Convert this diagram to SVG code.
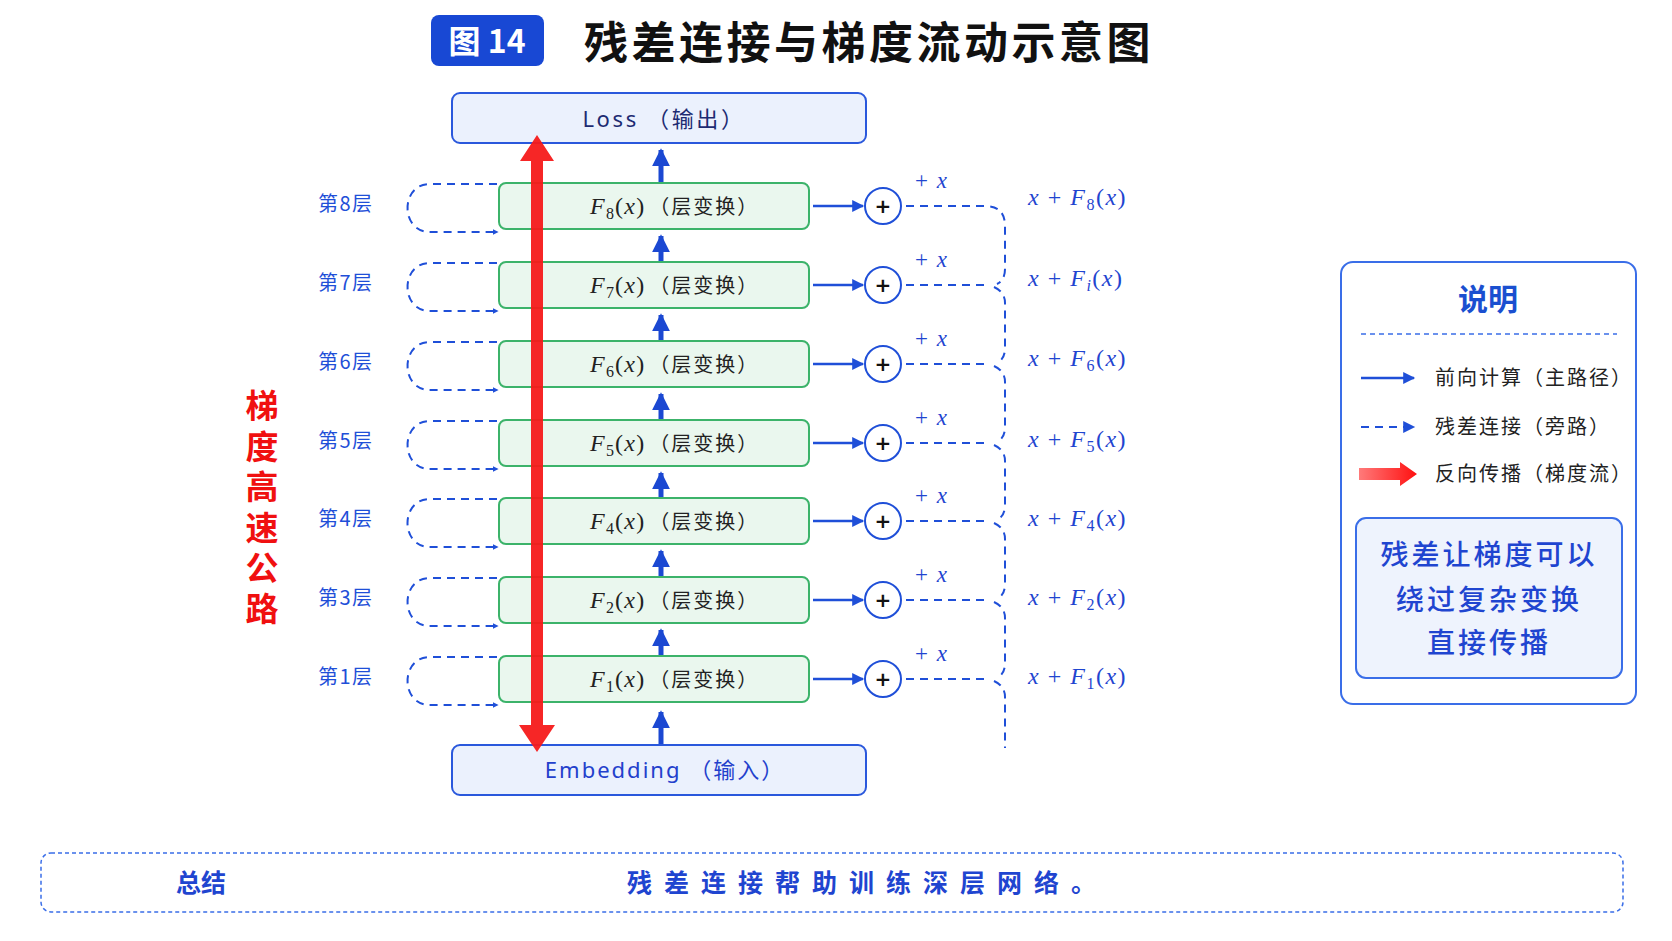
<svg xmlns="http://www.w3.org/2000/svg" width="1672" height="941" viewBox="0 0 1672 941">
<defs>
<style>
.title{font-family:"Noto Sans CJK SC",sans-serif;font-weight:700;font-size:44px;fill:#111}
.io{fill:#ebf1fd;stroke:#2a58dc;stroke-width:2}
.iot{font-family:"Noto Sans","Noto Sans CJK SC",sans-serif;font-size:22px;text-anchor:middle}
.layer{fill:#eaf7ee;stroke:#3cb36a;stroke-width:2}
.ft{font-family:"Liberation Serif","Noto Sans CJK SC",serif;font-size:24px;fill:#222;letter-spacing:1.2px}
.fc{font-family:"Noto Sans CJK SC",sans-serif;font-size:20px;letter-spacing:2px}
.it{font-style:italic}
.sub{font-size:16px}
.lbl{font-family:"Noto Sans CJK SC",sans-serif;font-size:20px;fill:#1f4fd8;letter-spacing:1.5px}
.rl{font-family:"Liberation Serif",serif;font-size:24px;fill:#1f45d0;letter-spacing:1.5px}
.px{font-family:"Liberation Serif",serif;font-size:23px;fill:#1f45d0;word-spacing:3px}
.fwd{stroke:#1f4fd8;stroke-width:2.5;fill:none}
.up{stroke:#1b48d2;stroke-width:5;fill:none}
.dash{stroke:#1f4fd8;stroke-width:2;fill:none;stroke-dasharray:8 6}
.circ{fill:#fff;stroke:#1f4fd8;stroke-width:2}
.plus{font-family:"DejaVu Sans",sans-serif;font-size:20px;font-weight:700;fill:#111;text-anchor:middle}
.leg{font-family:"Noto Sans CJK SC",sans-serif;font-size:20px;fill:#222;letter-spacing:2px}
</style>
<marker id="ah" viewBox="0 0 10 10" refX="9" refY="5" markerWidth="6" markerHeight="6" orient="auto" markerUnits="userSpaceOnUse">
<path d="M0,0 L10,5 L0,10 z" fill="#1f4fd8"/>
</marker>
<marker id="ahf" viewBox="0 0 10 10" refX="9" refY="5" markerWidth="14" markerHeight="12" orient="auto" markerUnits="userSpaceOnUse">
<path d="M0,0 L10,5 L0,10 z" fill="#1f4fd8"/>
</marker>
<marker id="ahu" viewBox="0 0 10 10" refX="9" refY="5" markerWidth="18" markerHeight="20" orient="auto" markerUnits="userSpaceOnUse">
<path d="M0,0 L10,5 L0,10 z" fill="#1b48d2"/>
</marker>
<linearGradient id="rg" x1="0" y1="0" x2="1" y2="0">
<stop offset="0" stop-color="#ff7a7a"/>
<stop offset="1" stop-color="#ff1010"/>
</linearGradient>
</defs>
<rect width="1672" height="941" fill="#fff"/>

<g id="title">
<rect x="431" y="15" width="113" height="51" rx="8" fill="#1848d4"/>
<text x="487" y="53" text-anchor="middle" font-family="Noto Sans CJK SC,sans-serif" font-weight="700" font-size="32" fill="#fff">图 14</text>
<text x="584" y="59" class="title" letter-spacing="3.5">残差连接与梯度流动示意图</text>
</g>

<g id="connectors">
<path class="up" d="M661 183 V150" marker-end="url(#ahu)"/>
<path class="up" d="M661 262 V236" marker-end="url(#ahu)"/>
<path class="up" d="M661 341 V315" marker-end="url(#ahu)"/>
<path class="up" d="M661 420 V394" marker-end="url(#ahu)"/>
<path class="up" d="M661 498 V473" marker-end="url(#ahu)"/>
<path class="up" d="M661 577 V551" marker-end="url(#ahu)"/>
<path class="up" d="M661 656 V630" marker-end="url(#ahu)"/>
<path class="up" d="M661 745 V712" marker-end="url(#ahu)"/>
<path class="fwd" d="M813 206 H863" marker-end="url(#ahf)"/>
<path class="fwd" d="M813 285 H863" marker-end="url(#ahf)"/>
<path class="fwd" d="M813 364 H863" marker-end="url(#ahf)"/>
<path class="fwd" d="M813 443 H863" marker-end="url(#ahf)"/>
<path class="fwd" d="M813 521 H863" marker-end="url(#ahf)"/>
<path class="fwd" d="M813 600 H863" marker-end="url(#ahf)"/>
<path class="fwd" d="M813 679 H863" marker-end="url(#ahf)"/>
<path class="dash" d="M497 184 H430 C400 184 400 232 430 232 H498" marker-end="url(#ah)"/>
<path class="dash" d="M497 263 H430 C400 263 400 311 430 311 H498" marker-end="url(#ah)"/>
<path class="dash" d="M497 342 H430 C400 342 400 390 430 390 H498" marker-end="url(#ah)"/>
<path class="dash" d="M497 421 H430 C400 421 400 469 430 469 H498" marker-end="url(#ah)"/>
<path class="dash" d="M497 499 H430 C400 499 400 547 430 547 H498" marker-end="url(#ah)"/>
<path class="dash" d="M497 578 H430 C400 578 400 626 430 626 H498" marker-end="url(#ah)"/>
<path class="dash" d="M497 657 H430 C400 657 400 705 430 705 H498" marker-end="url(#ah)"/>
<path class="dash" d="M906 206 H985 Q1005 206 1005 226 V269 Q1005 280 997 284"/>
<path class="dash" d="M906 285 H988"/>
<path class="dash" d="M994 287 Q1005 292 1005 303 V348 Q1005 359 997 363"/>
<path class="dash" d="M906 364 H988"/>
<path class="dash" d="M994 366 Q1005 371 1005 382 V427 Q1005 438 997 442"/>
<path class="dash" d="M906 443 H988"/>
<path class="dash" d="M994 445 Q1005 450 1005 461 V505 Q1005 516 997 520"/>
<path class="dash" d="M906 521 H988"/>
<path class="dash" d="M994 523 Q1005 528 1005 539 V584 Q1005 595 997 599"/>
<path class="dash" d="M906 600 H988"/>
<path class="dash" d="M994 602 Q1005 607 1005 618 V663 Q1005 674 997 678"/>
<path class="dash" d="M906 679 H988"/>
<path class="dash" d="M994 681 Q1005 686 1005 697 V748"/>
</g>

<g id="loss">
<rect class="io" x="452" y="93" width="414" height="50" rx="8"/>
<text class="iot" x="664" y="127" fill="#1d2b72" letter-spacing="2.6">Loss （输出）</text>
</g>

<g id="embedding">
<rect class="io" x="452" y="745" width="414" height="50" rx="8"/>
<text class="iot" x="665" y="778" fill="#2340cc" letter-spacing="2">Embedding （输入）</text>
</g>

<g id="layer8">
<rect class="layer" x="499" y="183" width="310" height="46" rx="7"/>
<text class="ft" x="590" y="214"><tspan class="it">F</tspan><tspan class="sub" dy="5">8</tspan><tspan dy="-5">(</tspan><tspan class="it">x</tspan><tspan>)</tspan><tspan class="fc" dx="4">（层变换）</tspan></text>
<text class="lbl" x="318" y="211">第8层</text>
</g>
<g id="layer7">
<rect class="layer" x="499" y="262" width="310" height="46" rx="7"/>
<text class="ft" x="590" y="293"><tspan class="it">F</tspan><tspan class="sub" dy="5">7</tspan><tspan dy="-5">(</tspan><tspan class="it">x</tspan><tspan>)</tspan><tspan class="fc" dx="4">（层变换）</tspan></text>
<text class="lbl" x="318" y="290">第7层</text>
</g>
<g id="layer6">
<rect class="layer" x="499" y="341" width="310" height="46" rx="7"/>
<text class="ft" x="590" y="372"><tspan class="it">F</tspan><tspan class="sub" dy="5">6</tspan><tspan dy="-5">(</tspan><tspan class="it">x</tspan><tspan>)</tspan><tspan class="fc" dx="4">（层变换）</tspan></text>
<text class="lbl" x="318" y="369">第6层</text>
</g>
<g id="layer5">
<rect class="layer" x="499" y="420" width="310" height="46" rx="7"/>
<text class="ft" x="590" y="451"><tspan class="it">F</tspan><tspan class="sub" dy="5">5</tspan><tspan dy="-5">(</tspan><tspan class="it">x</tspan><tspan>)</tspan><tspan class="fc" dx="4">（层变换）</tspan></text>
<text class="lbl" x="318" y="448">第5层</text>
</g>
<g id="layer4">
<rect class="layer" x="499" y="498" width="310" height="46" rx="7"/>
<text class="ft" x="590" y="529"><tspan class="it">F</tspan><tspan class="sub" dy="5">4</tspan><tspan dy="-5">(</tspan><tspan class="it">x</tspan><tspan>)</tspan><tspan class="fc" dx="4">（层变换）</tspan></text>
<text class="lbl" x="318" y="526">第4层</text>
</g>
<g id="layer3">
<rect class="layer" x="499" y="577" width="310" height="46" rx="7"/>
<text class="ft" x="590" y="608"><tspan class="it">F</tspan><tspan class="sub" dy="5">2</tspan><tspan dy="-5">(</tspan><tspan class="it">x</tspan><tspan>)</tspan><tspan class="fc" dx="4">（层变换）</tspan></text>
<text class="lbl" x="318" y="605">第3层</text>
</g>
<g id="layer1">
<rect class="layer" x="499" y="656" width="310" height="46" rx="7"/>
<text class="ft" x="590" y="687"><tspan class="it">F</tspan><tspan class="sub" dy="5">1</tspan><tspan dy="-5">(</tspan><tspan class="it">x</tspan><tspan>)</tspan><tspan class="fc" dx="4">（层变换）</tspan></text>
<text class="lbl" x="318" y="684">第1层</text>
</g>

<g id="adders">
<circle class="circ" cx="883" cy="206" r="18"/><text class="plus" x="883" y="213">+</text>
<circle class="circ" cx="883" cy="285" r="18"/><text class="plus" x="883" y="292">+</text>
<circle class="circ" cx="883" cy="364" r="18"/><text class="plus" x="883" y="371">+</text>
<circle class="circ" cx="883" cy="443" r="18"/><text class="plus" x="883" y="450">+</text>
<circle class="circ" cx="883" cy="521" r="18"/><text class="plus" x="883" y="528">+</text>
<circle class="circ" cx="883" cy="600" r="18"/><text class="plus" x="883" y="607">+</text>
<circle class="circ" cx="883" cy="679" r="18"/><text class="plus" x="883" y="686">+</text>
<text class="px" x="915" y="188">+ <tspan class="it">x</tspan></text>
<text class="px" x="915" y="267">+ <tspan class="it">x</tspan></text>
<text class="px" x="915" y="346">+ <tspan class="it">x</tspan></text>
<text class="px" x="915" y="425">+ <tspan class="it">x</tspan></text>
<text class="px" x="915" y="503">+ <tspan class="it">x</tspan></text>
<text class="px" x="915" y="582">+ <tspan class="it">x</tspan></text>
<text class="px" x="915" y="661">+ <tspan class="it">x</tspan></text>
</g>

<g id="outputs">
<text class="rl" x="1028" y="205"><tspan class="it">x</tspan> + <tspan class="it">F</tspan><tspan class="sub" dy="5">8</tspan><tspan dy="-5">(</tspan><tspan class="it">x</tspan>)</text>
<text class="rl" x="1028" y="286"><tspan class="it">x</tspan> + <tspan class="it">F</tspan><tspan class="sub it" dy="5">i</tspan><tspan dy="-5">(</tspan><tspan class="it">x</tspan>)</text>
<text class="rl" x="1028" y="366"><tspan class="it">x</tspan> + <tspan class="it">F</tspan><tspan class="sub" dy="5">6</tspan><tspan dy="-5">(</tspan><tspan class="it">x</tspan>)</text>
<text class="rl" x="1028" y="447"><tspan class="it">x</tspan> + <tspan class="it">F</tspan><tspan class="sub" dy="5">5</tspan><tspan dy="-5">(</tspan><tspan class="it">x</tspan>)</text>
<text class="rl" x="1028" y="526"><tspan class="it">x</tspan> + <tspan class="it">F</tspan><tspan class="sub" dy="5">4</tspan><tspan dy="-5">(</tspan><tspan class="it">x</tspan>)</text>
<text class="rl" x="1028" y="605"><tspan class="it">x</tspan> + <tspan class="it">F</tspan><tspan class="sub" dy="5">2</tspan><tspan dy="-5">(</tspan><tspan class="it">x</tspan>)</text>
<text class="rl" x="1028" y="684"><tspan class="it">x</tspan> + <tspan class="it">F</tspan><tspan class="sub" dy="5">1</tspan><tspan dy="-5">(</tspan><tspan class="it">x</tspan>)</text>
</g>

<g id="gradient-arrow">
<path d="M537 135 L554 161 L543 161 L543 725 L555 725 L537 752 L519 725 L531 725 L531 161 L520 161 Z" fill="#f51a1a" fill-opacity="0.95"/>
</g>

<g id="highway-label">
<text x="262" y="389" writing-mode="vertical-rl" font-family="Noto Sans CJK SC,sans-serif" font-weight="700" font-size="33" fill="#f01010" letter-spacing="7.5">梯度高速公路</text>
</g>

<g id="legend">
<rect x="1341" y="262" width="295" height="442" rx="12" fill="#fff" stroke="#3a6ee8" stroke-width="2"/>
<text x="1488" y="310" text-anchor="middle" font-family="Noto Sans CJK SC,sans-serif" font-weight="700" font-size="30" fill="#1a4fd0">说明</text>
<line x1="1361" y1="334" x2="1617" y2="334" stroke="#3a6ee8" stroke-width="1.5" stroke-dasharray="5 4"/>
<path class="fwd" d="M1361 378 H1414" marker-end="url(#ahf)"/>
<text class="leg" x="1435" y="385">前向计算（主路径）</text>
<path class="dash" d="M1361 427 H1414" stroke-dasharray="7 5" marker-end="url(#ahf)"/>
<text class="leg" x="1435" y="434">残差连接（旁路）</text>
<path d="M1359 468 H1400 V462 L1417 474 L1400 486 V480 H1359 Z" fill="url(#rg)"/>
<text class="leg" x="1435" y="481">反向传播（梯度流）</text>
<rect x="1356" y="518" width="266" height="160" rx="10" fill="#eef3fd" stroke="#3a6ee8" stroke-width="2"/>
<g font-family="Noto Sans CJK SC,sans-serif" font-size="28" font-weight="500" fill="#1f45d0" text-anchor="middle" letter-spacing="3">
<text x="1489" y="565">残差让梯度可以</text>
<text x="1489" y="610">绕过复杂变换</text>
<text x="1489" y="653">直接传播</text>
</g>
</g>

<g id="summary">
<rect x="41" y="853" width="1582" height="59" rx="10" fill="#fff" stroke="#3a6ee8" stroke-width="1.5" stroke-dasharray="4 3"/>
<text x="176" y="892" font-family="Noto Sans CJK SC,sans-serif" font-weight="700" font-size="25" fill="#1f45d0">总结</text>
<text x="627" y="892" font-family="Noto Sans CJK SC,sans-serif" font-weight="700" font-size="25" fill="#1f45d0" letter-spacing="12">残差连接帮助训练深层网络。</text>
</g>
</svg>
